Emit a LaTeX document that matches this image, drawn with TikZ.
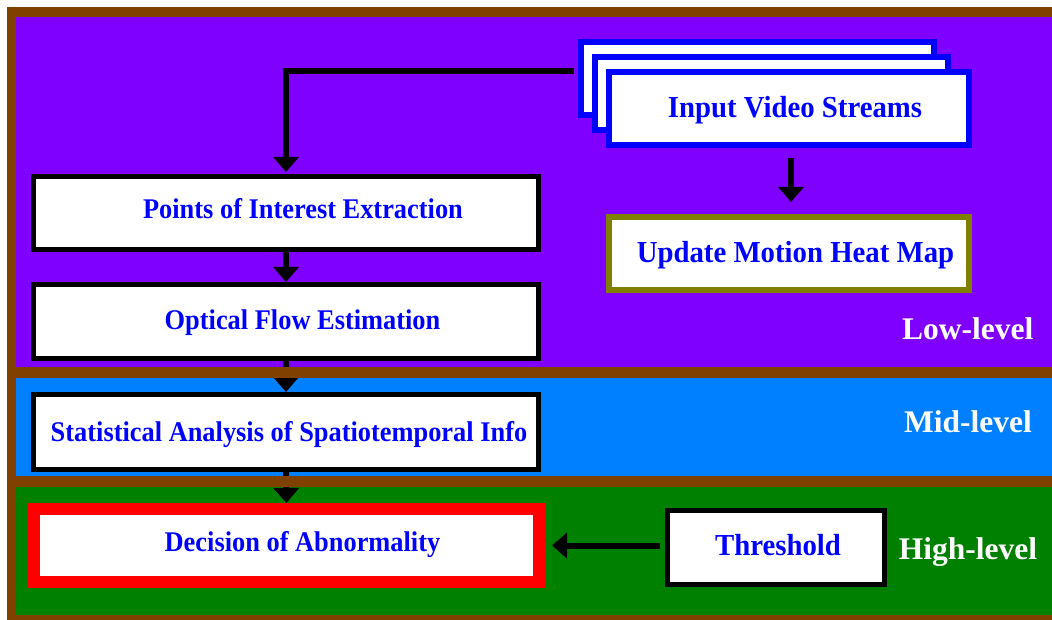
\documentclass[tikz,border=0pt]{standalone}
\usepackage{fontspec}
\setmainfont{Liberation Serif}
\newfontfamily\leftstepfont{Liberation Serif}[FakeStretch=0.926]
\newfontfamily\rightstepfont{Liberation Serif}[FakeStretch=0.944]
\usetikzlibrary{arrows.meta}
\definecolor{lowbg}{HTML}{8000FF}
\definecolor{midbg}{HTML}{0080FF}
\definecolor{highbg}{HTML}{008000}
\definecolor{framebrown}{HTML}{804000}
\definecolor{olivebd}{HTML}{808000}
\definecolor{txtblue}{HTML}{0000FF}
\definecolor{redbd}{HTML}{FF0000}

\begin{document}
\begin{tikzpicture}[x=1pt,y=-1pt,
  box/.style={draw=black, line width=5pt, fill=white, inner sep=0pt},
  streambox/.style={box, draw=txtblue, line width=6pt, minimum height=73pt},
  heatbox/.style={box, draw=olivebd, line width=6pt},
  decisionbox/.style={box, draw=redbd, line width=12pt},
  flow/.style={line width=6pt, -{Triangle[length=15pt,width=25pt]}},
  lefttext/.style={anchor=base, inner sep=0pt, text=txtblue,
    font=\leftstepfont\fontsize{28.5}{32}\selectfont\bfseries},
  righttext/.style={anchor=base, inner sep=0pt, text=txtblue,
    font=\rightstepfont\fontsize{30.5}{34}\selectfont\bfseries},
  leveltext/.style={anchor=base, inner sep=0pt, text=white,
    font=\fontsize{31.5}{35}\selectfont\bfseries},
]
\useasboundingbox (0,0) rectangle (1052,620);

% frame and the three level bands
\fill[framebrown] (7,7) rectangle (1052,620);
\fill[lowbg] (16,17) rectangle (1052,367);
\fill[midbg] (16,378) rectangle (1052,476);
\fill[highbg] (16,487) rectangle (1052,615);

% processing steps
\node[box, minimum width=505pt, minimum height=73pt] (poi) at (286,213) {};
\node[box, minimum width=505pt, minimum height=74pt] (flowest) at (286,321.5) {};
\node[box, minimum width=505pt, minimum height=75pt] (stat) at (286,432) {};
\node[decisionbox, minimum width=505pt, minimum height=73pt] (dec) at (286.5,545.5) {};
\node[box, minimum width=217pt, minimum height=74pt] (thr) at (776,547.5) {};

% stacked video streams
\node[streambox, minimum width=353pt] (back) at (757.7,78.5) {};
\node[streambox, minimum width=353pt] (mid) at (771.8,93.5) {};
\node[streambox, minimum width=360pt] (front) at (789,108.5) {};
\node[heatbox, minimum width=360pt, minimum height=73pt] (heat) at (789,253.5) {};

% step labels
\node[righttext] (frontT) at (795,117.3) {Input Video Streams};
\node[righttext] (heatT) at (795.5,262.3) {Update Motion Heat Map};
\node[lefttext] (poiT) at (303,218.3) {Points of Interest Extraction};
\node[lefttext] (flowestT) at (302.5,329.3) {Optical Flow Estimation};
\node[lefttext] (statT) at (289,441.7) {Statistical Analysis of Spatiotemporal Info};
\node[lefttext] (decT) at (302.5,551.7) {Decision of Abnormality};
\node[righttext] (thrT) at (778,555) {Threshold};

% level names
\node[leveltext] (low) at (967.7,339.3) {Low-level};
\node[leveltext] (midlvl) at (968,432.7) {Mid-level};
\node[leveltext] (high) at (968,559.3) {High-level};

% connectors
\draw[flow, shorten >=2pt] ([xshift=-4pt,yshift=7.5pt]back.west) -| (poi.north);
\draw[flow, shorten <=10pt, shorten >=12pt] ([xshift=2pt]front.south) -- ([xshift=2pt]heat.north);
\draw[flow] (poi.south) -- (flowest.north);
\draw[flow] (flowest.south) -- (stat.north);
\draw[flow] (stat.south) -- (dec.north);
\draw[flow, shorten <=5pt, shorten >=7pt] (thr.west |- dec.east) -- (dec.east);

% separators between the levels
\fill[framebrown] (16,367) rectangle (1052,378);
\fill[framebrown] (16,476) rectangle (1052,487);
\end{tikzpicture}
\end{document}
